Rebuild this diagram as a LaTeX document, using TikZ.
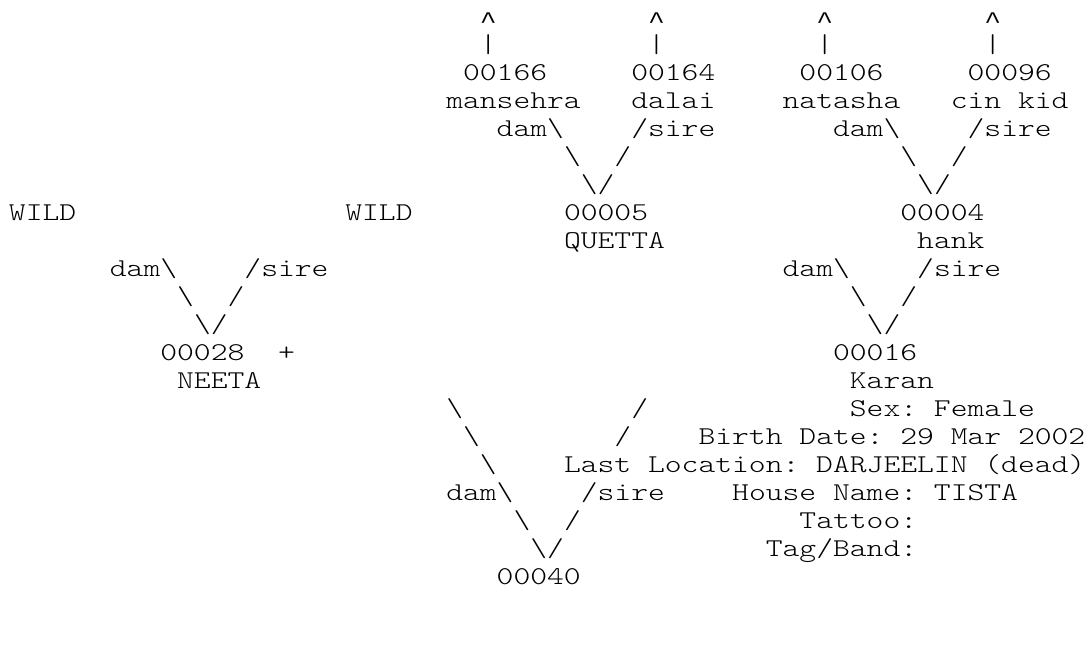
\documentclass[tikz,border=0pt]{standalone}
\usepackage{fontspec}
\usepackage{graphicx}
\newfontfamily\monofam{lmmonolt10-regular.otf}
\newfontfamily\caretfam{Liberation Mono}
\newcommand\pedfont{\monofam\fontsize{32.03pt}{28pt}\selectfont\frenchspacing\spaceskip=16.818pt\relax}
\newcommand\T[4]{\node[txt] (#1) at ({9+16.818*#2},{24.5+28*(#3-1)}) {\scalebox{1}[0.8]{#4}};}
\newcommand\Up[2]{\node[txt] (#1) at ({9+16.818*#2},28.5) {\scalebox{1}[0.85]{\caretfam\fontsize{28pt}{28pt}\selectfont\textasciicircum}};}
\newcommand\bs{\textbackslash}
\tikzset{txt/.style={anchor=base west, inner sep=0pt, outer sep=0pt, text=black, font=\pedfont}}
\begin{document}
\begin{tikzpicture}[x=1pt,y=-1pt]
\useasboundingbox[fill=white] (0,0) rectangle (1089,669);
% row 1-2: arrows up
\Up{upA}{28}
\Up{upB}{38}
\Up{upC}{48}
\Up{upD}{58}
\T{barA}{28}{2}{|}
\T{barB}{38}{2}{|}
\T{barC}{48}{2}{|}
\T{barD}{58}{2}{|}
% row 3-4: great-grandparents
\T{idA}{27}{3}{00166}
\T{idB}{37}{3}{00164}
\T{idC}{47}{3}{00106}
\T{idD}{57}{3}{00096}
\T{nmA}{26}{4}{mansehra}
\T{nmB}{37}{4}{dalai}
\T{nmC}{46}{4}{natasha}
\T{nmD}{56}{4}{cin kid}
% row 5-7
\T{damA}{29}{5}{dam\bs}
\T{sireA}{37}{5}{/sire}
\T{damB}{49}{5}{dam\bs}
\T{sireB}{57}{5}{/sire}
\T{bsA}{33}{6}{\bs}
\T{slA}{36}{6}{/}
\T{bsB}{53}{6}{\bs}
\T{slB}{56}{6}{/}
\T{vA}{34}{7}{\bs/}
\T{vB}{54}{7}{\bs/}
% row 8-9: grandparents
\T{wildA}{0}{8}{WILD}
\T{wildB}{20}{8}{WILD}
\T{idQ}{33}{8}{00005}
\T{idH}{53}{8}{00004}
\T{nmQ}{33}{9}{QUETTA}
\T{nmH}{54}{9}{hank}
% row 10-12
\T{damC}{6}{10}{dam\bs}
\T{sireC}{14}{10}{/sire}
\T{damD}{46}{10}{dam\bs}
\T{sireD}{54}{10}{/sire}
\T{bsC}{10}{11}{\bs}
\T{slC}{13}{11}{/}
\T{bsD}{50}{11}{\bs}
\T{slD}{53}{11}{/}
\T{vC}{11}{12}{\bs/}
\T{vD}{51}{12}{\bs/}
% row 13-14: parents
\T{idN}{9}{13}{00028}
\T{plus}{16}{13}{+}
\T{idK}{49}{13}{00016}
\T{nmN}{10}{14}{NEETA}
\T{nmK}{50}{14}{Karan}
% rows 15-21: subject and info
\T{bsE1}{26}{15}{\bs}
\T{slE1}{37}{15}{/}
\T{sex}{50}{15}{Sex: Female}
\T{bsE2}{27}{16}{\bs}
\T{slE2}{36}{16}{/}
\T{birth}{41}{16}{Birth Date: 29 Mar 2002}
\T{bsE3}{28}{17}{\bs}
\T{loc}{33}{17}{Last Location: DARJEELIN (dead)}
\T{damE}{26}{18}{dam\bs}
\T{sireE}{34}{18}{/sire}
\T{house}{43}{18}{House Name: TISTA}
\T{bsE4}{30}{19}{\bs}
\T{slE4}{33}{19}{/}
\T{tattoo}{47}{19}{Tattoo:}
\T{vE}{31}{20}{\bs/}
\T{tag}{45}{20}{Tag/Band:}
\T{idS}{29}{21}{00040}
\end{tikzpicture}
\end{document}
